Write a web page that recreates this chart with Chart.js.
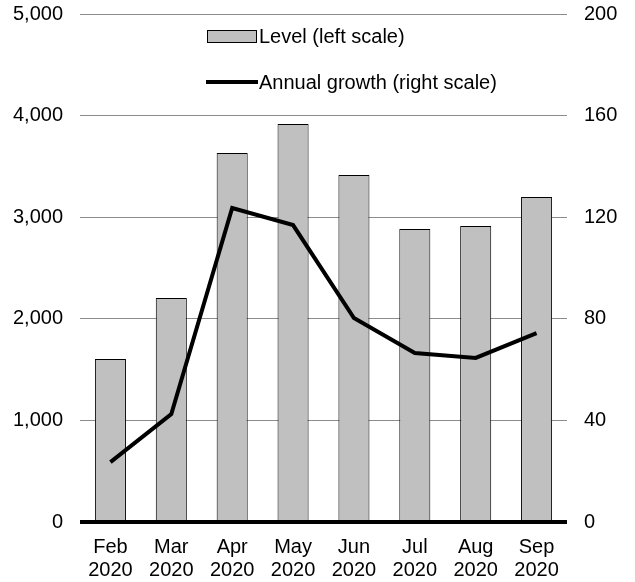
<!DOCTYPE html>
<html>
<head>
<meta charset="utf-8">
<script src="https://cdn.jsdelivr.net/npm/chart.js@4/dist/chart.umd.min.js"></script>
<style>
  html, body { margin: 0; padding: 0; background: #fff; }
  #wrap { position: relative; width: 635px; height: 582px; }
  .leg { position: absolute; font-family: "Liberation Sans", Arial, sans-serif; font-size: 20px; color: #000; white-space: nowrap; line-height: 22px; }
  .sw-bar { position: absolute; box-sizing: border-box; background: #c0c0c0; border: 1px solid #000; }
  .sw-line { position: absolute; background: #000; }
</style>
</head>
<body>
<div id="wrap">
  <canvas id="c" width="635" height="582"></canvas>
  <div class="sw-bar" style="left:207px; top:30px; width:50px; height:13px;"></div>
  <div class="leg" style="left:259px; top:25px;">Level (left scale)</div>
  <div class="sw-line" style="left:206px; top:80px; width:52px; height:4px;"></div>
  <div class="leg" style="left:259px; top:71px;">Annual growth (right scale)</div>
</div>
<script>
const categories = [["Feb","2020"],["Mar","2020"],["Apr","2020"],["May","2020"],["Jun","2020"],["Jul","2020"],["Aug","2020"],["Sep","2020"]];
const levelValues = [1604, 2205, 3632, 3917, 3415, 2884, 2913, 3199];
const growthValues = [23.6, 42.5, 123.6, 116.9, 80.3, 66.5, 64.6, 74.4];
const leftTicks = [0, 1000, 2000, 3000, 4000, 5000];
const rightTicks = [0, 40, 80, 120, 160, 200];

const FONT = { family: '"Liberation Sans", Arial, sans-serif', size: 20 };

const zeroLine = {
  id: 'zeroLine',
  afterDatasetsDraw(chart) {
    const ctx = chart.ctx;
    const y = chart.scales.y.getPixelForValue(0);
    ctx.save();
    ctx.strokeStyle = '#000';
    ctx.lineWidth = 4;
    ctx.beginPath();
    ctx.moveTo(chart.chartArea.left, y);
    ctx.lineTo(chart.chartArea.right, y);
    ctx.stroke();
    ctx.restore();
  }
};

function noPad(s) { s.paddingTop = 0; s.paddingBottom = 0; }

new Chart(document.getElementById('c'), {
  data: {
    labels: categories,
    datasets: [
      {
        type: 'line',
        label: 'Annual growth (right scale)',
        data: growthValues,
        yAxisID: 'y1',
        borderColor: '#000',
        borderWidth: 4,
        pointRadius: 0,
        tension: 0,
        fill: false,
        order: 0
      },
      {
        type: 'bar',
        label: 'Level (left scale)',
        data: levelValues,
        yAxisID: 'y',
        backgroundColor: '#c0c0c0',
        borderColor: '#000',
        borderWidth: 1,
        barPercentage: 0.51,
        categoryPercentage: 1.0,
        order: 1
      }
    ]
  },
  options: {
    responsive: false,
    devicePixelRatio: 1,
    animation: false,
    layout: { padding: { top: 14, left: 0, right: 0, bottom: 0 } },
    plugins: { legend: { display: false }, tooltip: { enabled: false } },
    scales: {
      x: {
        grid: { display: false, drawTicks: false },
        border: { display: false },
        ticks: { font: Object.assign({ lineHeight: 1.15 }, FONT), color: '#000', padding: 14, maxRotation: 0, autoSkip: false },
        afterFit(s) { s.height = 60; s.paddingLeft = 0; s.paddingRight = 0; }
      },
      y: {
        position: 'left',
        min: 0, max: 5000,
        afterBuildTicks(s) { s.ticks = leftTicks.map(v => ({ value: v })); },
        ticks: { font: FONT, color: '#000', padding: 17,
                 callback: v => v.toLocaleString('en-US') },
        grid: { color: '#8c8c8c', lineWidth: 1, drawTicks: false },
        border: { display: false },
        afterFit(s) { s.width = 80; noPad(s); }
      },
      y1: {
        position: 'right',
        min: 0, max: 200,
        afterBuildTicks(s) { s.ticks = rightTicks.map(v => ({ value: v })); },
        ticks: { font: FONT, color: '#000', padding: 17 },
        grid: { display: false, drawTicks: false },
        border: { display: false },
        afterFit(s) { s.width = 68; noPad(s); }
      }
    }
  },
  plugins: [zeroLine]
});
</script>
</body>
</html>
